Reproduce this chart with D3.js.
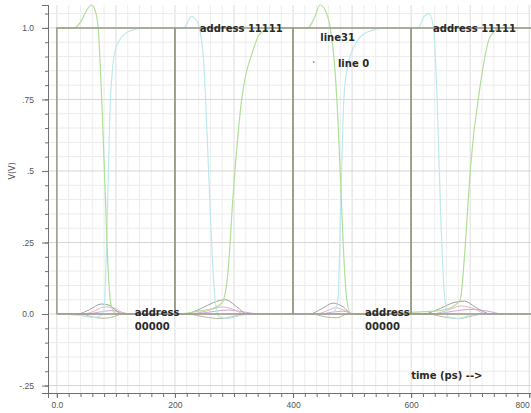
<!DOCTYPE html>
<html>
<head>
<meta charset="utf-8">
<script src="https://cdn.jsdelivr.net/npm/d3@7"></script>
<style>
  body { margin: 0; background: #fff; }
  svg { display: block; font-family: "DejaVu Sans", sans-serif; }
</style>
</head>
<body>
<svg id="chart" width="531" height="413"></svg>
<script>
// tick labels
const xTickValues = [0, 200, 400, 600, 800];
const xTickLabels = ['0.0', '200', '400', '600', '800'];
const yTickValues = [1.0, 0.75, 0.5, 0.25, 0.0, -0.25];
const yTickLabels = ['1.0', '.75', '.5', '.25', '0.0', '-.25'];

// address bits (true / complement), [time ps, V]
const addressTrue = [[0, 0], [0, 1], [200, 1], [200, 0], [400, 0], [400, 1], [600, 1], [600, 0], [803, 0]];
const addressComp = [[0, 0], [200, 0], [200, 1], [400, 1], [400, 0], [600, 0], [600, 1], [803, 1]];

// word lines
const line31 = [[0, 1], [30, 1], [40, 1.02], [50, 1.06], [59, 1.08], [65, 1.06], [70, 1.0], [76, 0.75],
  [82, 0.42], [87, 0.15], [92, 0.03], [100, 0], [200, 0], [240, 0.01], [265, 0.02], [280, 0.04], [290, 0.15],
  [298, 0.4], [313, 0.75], [332, 0.92], [344, 0.98], [365, 1.0], [425, 1.0], [435, 1.03], [446, 1.08],
  [455, 1.06], [463, 1.0], [470, 0.88], [476, 0.68], [481, 0.44], [486, 0.2], [491, 0.05], [498, 0],
  [640, 0.01], [665, 0.02], [683, 0.05], [692, 0.25], [700, 0.5], [717, 0.8], [734, 0.97], [752, 1.0], [803, 1.0]];

const line0 = [[0, 0], [40, -0.005], [60, -0.012], [75, -0.005], [80, 0.02], [85, 0.3], [90, 0.72],
  [94, 0.85], [100, 0.93], [119, 0.985], [150, 1.0], [215, 1.0], [228, 1.04], [238, 1.02], [248, 0.9],
  [255, 0.6], [262, 0.25], [268, 0.05], [275, -0.01], [290, -0.015], [310, -0.005], [330, 0], [460, 0],
  [470, 0.01], [476, 0.05], [481, 0.4], [486, 0.75], [492, 0.86], [505, 0.94], [525, 0.985], [560, 1.0],
  [612, 1.0], [622, 1.04], [630, 1.05], [638, 1.0], [644, 0.75], [650, 0.35], [656, 0.08], [663, -0.01],
  [680, -0.015], [700, -0.005], [720, 0], [803, 0]];

// unselected word lines near ground
const wordGray = [[0, 0], [35, 0], [55, 0.015], [75, 0.035], [90, 0.03], [100, 0.012], [112, 0], [215, 0],
  [245, 0.02], [265, 0.04], [285, 0.05], [305, 0.025], [322, 0], [428, 0], [448, 0.018], [468, 0.038],
  [485, 0.025], [500, 0], [620, 0], [650, 0.02], [672, 0.04], [690, 0.045], [712, 0.02], [735, 0], [803, 0]];
const wordPink = [[0, 0], [45, 0], [65, 0.012], [80, 0.025], [95, 0.022], [108, 0.008], [118, 0], [225, 0],
  [255, 0.012], [280, 0.025], [300, 0.015], [318, 0], [440, 0], [458, 0.012], [472, 0.022], [490, 0.01],
  [502, 0], [635, 0], [660, 0.012], [685, 0.028], [705, 0.02], [728, 0], [803, 0]];
const wordPurple = [[0, 0], [50, 0], [70, 0.006], [92, 0.012], [110, 0.006], [125, 0], [230, 0],
  [262, 0.008], [290, 0.014], [320, 0.006], [345, 0], [445, 0], [465, 0.006], [485, 0.01], [505, 0],
  [640, 0], [672, 0.01], [700, 0.016], [730, 0.01], [755, 0], [803, 0]];
const wordOlive = [[0, 0], [40, 0], [60, -0.01], [80, -0.015], [98, -0.008], [110, 0], [220, 0],
  [250, -0.01], [275, -0.016], [300, -0.008], [315, 0], [432, 0], [455, -0.01], [475, -0.013],
  [492, 0], [628, 0], [655, -0.01], [680, -0.016], [705, -0.006], [722, 0], [803, 0]];

const labels = [
  { text: 'address 11111', t: 242, v: 0.986 },
  { text: 'address 11111', t: 637, v: 0.986 },
  { text: 'line31', t: 446, v: 0.955 },
  { text: 'line 0', t: 476, v: 0.864 },
  { text: 'address', t: 132, v: -0.007 },
  { text: '00000', t: 132, v: -0.056 },
  { text: 'address', t: 522, v: -0.007 },
  { text: '00000', t: 522, v: -0.056 },
  { text: 'time (ps) -->', t: 600, v: -0.227 }
];

const svg = d3.select('#chart');

const x = d3.scaleLinear().domain([-15, 803]).range([48, 531]);
const y = d3.scaleLinear().domain([-0.276, 1.08]).range([393, 5]);

/********* grid *********/
const grid = svg.append('g');
const xGrid = d3.range(0, 801, 20);
const yGrid = d3.range(-25, 106, 5).map(d => d / 100);

grid.selectAll('.vg')
  .data(xGrid)
  .enter()
  .append('line')
  .attr('x1', d => x(d)).attr('x2', d => x(d))
  .attr('y1', y(1.08)).attr('y2', y(-0.276))
  .style('stroke', d => d % 100 === 0 ? '#dcdcdc' : '#ededed')
  .style('stroke-width', 1);

grid.selectAll('.hg')
  .data(yGrid)
  .enter()
  .append('line')
  .attr('x1', x(-15)).attr('x2', x(803))
  .attr('y1', d => y(d)).attr('y2', d => y(d))
  .style('stroke', d => Math.round(d * 100) % 25 === 0 ? '#d6d6d6' : '#ececec')
  .style('stroke-width', 1);

/********* axes *********/
svg.append('g')
  .attr('transform', `translate(${x(-15)},0)`)
  .call(d3.axisLeft(y).tickValues(yTickValues).tickFormat((d, i) => yTickLabels[i]).tickSize(6).tickPadding(8));

svg.append('g')
  .attr('transform', `translate(${x(-15)},0)`)
  .call(d3.axisLeft(y).tickValues(yGrid).tickFormat('').tickSize(3));

const xAxis = svg.append('g')
  .attr('transform', `translate(0,${y(-0.276)})`)
  .call(d3.axisBottom(x).tickValues(xTickValues).tickFormat((d, i) => xTickLabels[i]).tickSize(5).tickPadding(4));

svg.append('g')
  .attr('transform', `translate(0,${y(-0.276)})`)
  .call(d3.axisBottom(x).tickValues(xGrid).tickFormat('').tickSize(4));

svg.selectAll('.domain').style('stroke', '#707070');
svg.selectAll('.tick line').style('stroke', '#707070');
svg.selectAll('.tick text').style('fill', '#555').style('font-size', '8.5px');
// last label would run off the right edge
xAxis.selectAll('.tick text').filter(d => d === 800).attr('text-anchor', 'end');

svg.append('text')
  .attr('transform', `translate(15,${y(0.5)}) rotate(-90)`)
  .attr('text-anchor', 'middle')
  .style('font-size', '8px')
  .style('fill', '#555')
  .text('V(V)');

/********* signals *********/
const stepLine = d3.line().x(d => x(d[0])).y(d => y(d[1]));
const smoothLine = d3.line().x(d => x(d[0])).y(d => y(d[1])).curve(d3.curveMonotoneX);

const series = [
  { data: wordPurple, color: '#cfa6dc', w: 1 },
  { data: wordPink, color: '#e6b3c0', w: 1 },
  { data: wordOlive, color: '#b8b8a0', w: 1 },
  { data: wordGray, color: '#a0a0a0', w: 1 },
  { data: line0, color: '#bce9f0', w: 1.2 },
  { data: line31, color: '#b0df98', w: 1.2 }
];

svg.append('g')
  .selectAll('path')
  .data(series)
  .enter()
  .append('path')
  .attr('d', d => smoothLine(d.data))
  .style('fill', 'none')
  .style('stroke', d => d.color)
  .style('stroke-width', d => d.w);

svg.append('g')
  .selectAll('path')
  .data([addressTrue, addressComp])
  .enter()
  .append('path')
  .attr('d', d => stepLine(d))
  .style('fill', 'none')
  .style('stroke', '#9a9a86')
  .style('stroke-width', 1.5);

/********* annotations *********/
svg.append('g')
  .selectAll('text')
  .data(labels)
  .enter()
  .append('text')
  .attr('x', d => x(d.t))
  .attr('y', d => y(d.v))
  .style('font-size', '10px')
  .style('font-weight', 'bold')
  .style('fill', '#2a2a2a')
  .text(d => d.text);

svg.append('circle')
  .attr('cx', x(435))
  .attr('cy', y(0.881))
  .attr('r', 1)
  .style('fill', '#999');
</script>
</body>
</html>
